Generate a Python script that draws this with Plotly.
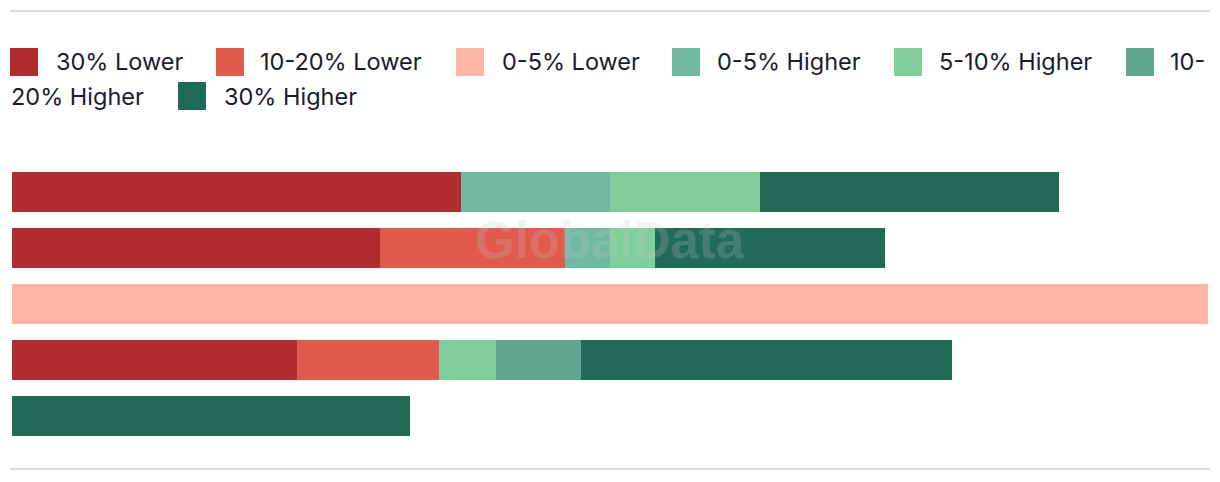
import plotly.graph_objects as go

# ---- data ----
categories = ["Row 1", "Row 2", "Row 3", "Row 4", "Row 5"]
series_names = ["30% Lower", "10-20% Lower", "0-5% Lower", "0-5% Higher",
                "5-10% Higher", "10-20% Higher", "30% Higher"]
lower_30 = [37.5, 30.8, 0, 23.8, 0]
lower_10_20 = [0, 15.4, 0, 11.9, 0]
lower_0_5 = [0, 0, 100, 0, 0]
higher_0_5 = [12.5, 3.8, 0, 0, 0]
higher_5_10 = [12.5, 3.8, 0, 4.8, 0]
higher_10_20 = [0, 0, 0, 7.1, 0]
higher_30 = [25.0, 19.2, 0, 31.0, 33.3]
series_values = [lower_30, lower_10_20, lower_0_5, higher_0_5,
                 higher_5_10, higher_10_20, higher_30]
colors = ["#b02c2e", "#e05a4e", "#feb5a6", "#6fb9a0", "#80cf9c", "#60a690", "#226b57"]

OFF = 8  # page body margin (top/left)
W, H = 1220 - OFF, 482 - OFF
ML, MR, MT, MB = 12 - OFF, 12, 164 - OFF, 38
PW, PH = W - ML - MR, H - MT - MB


def px(x):
    return (x - OFF - ML) / PW


def py(y):
    return (H - MB - (y - OFF)) / PH


fig = go.Figure()
for name, vals, col in zip(series_names, series_values, colors):
    fig.add_trace(go.Bar(
        y=categories, x=vals, name=name, orientation="h",
        marker=dict(color=col, line=dict(width=0)),
        showlegend=False, hoverinfo="x+name",
    ))

shapes = []
annotations = []
# top / bottom rules
for yy in (11, 469):
    shapes.append(dict(type="line", xref="paper", yref="paper",
                       x0=px(10), x1=px(1210), y0=py(yy), y1=py(yy),
                       line=dict(color="#dcdcdc", width=2)))

# custom wrapped legend: (square x, text x, line center y, label)
legend_font = dict(family="Inter", size=23.5, color="#1b1b2e")
legend_items = [
    (10, 54, 62, series_names[0], colors[0]),
    (216, 258, 62, series_names[1], colors[1]),
    (456, 500, 62, series_names[2], colors[2]),
    (672, 715, 62, series_names[3], colors[3]),
    (894, 937, 62, series_names[4], colors[4]),
    (1126, 1168, 62, "10-", colors[5]),
    (None, 9, 96, "20% Higher", None),
    (178, 222, 96, series_names[6], colors[6]),
]
for sx, tx, cy, label, col in legend_items:
    if sx is not None:
        shapes.append(dict(type="rect", xref="paper", yref="paper",
                           x0=px(sx), x1=px(sx + 28), y0=py(cy - 14), y1=py(cy + 14),
                           fillcolor=col, line=dict(width=0)))
    annotations.append(dict(xref="paper", yref="paper", x=px(tx), y=py(cy),
                            xanchor="left", yanchor="middle", text=label,
                            showarrow=False, font=legend_font))

# watermark
annotations.append(dict(xref="paper", yref="paper", x=px(610), y=py(240),
                        xanchor="center", yanchor="middle", text="<b>GlobalData</b>",
                        showarrow=False,
                        font=dict(family="Liberation Sans", size=51,
                                  color="rgba(200,200,200,0.22)")))

fig.update_layout(
    width=W, height=H, barmode="stack", bargap=16 / 56,
    margin=dict(l=ML, r=MR, t=MT, b=MB, autoexpand=False),
    paper_bgcolor="white", plot_bgcolor="white",
    xaxis=dict(range=[0, 100], visible=False, fixedrange=True),
    yaxis=dict(categoryorder="array", categoryarray=categories,
               autorange="reversed", visible=False, fixedrange=True),
    shapes=shapes, annotations=annotations, showlegend=False,
)
fig.write_html("out.html", config={"displayModeBar": False})
